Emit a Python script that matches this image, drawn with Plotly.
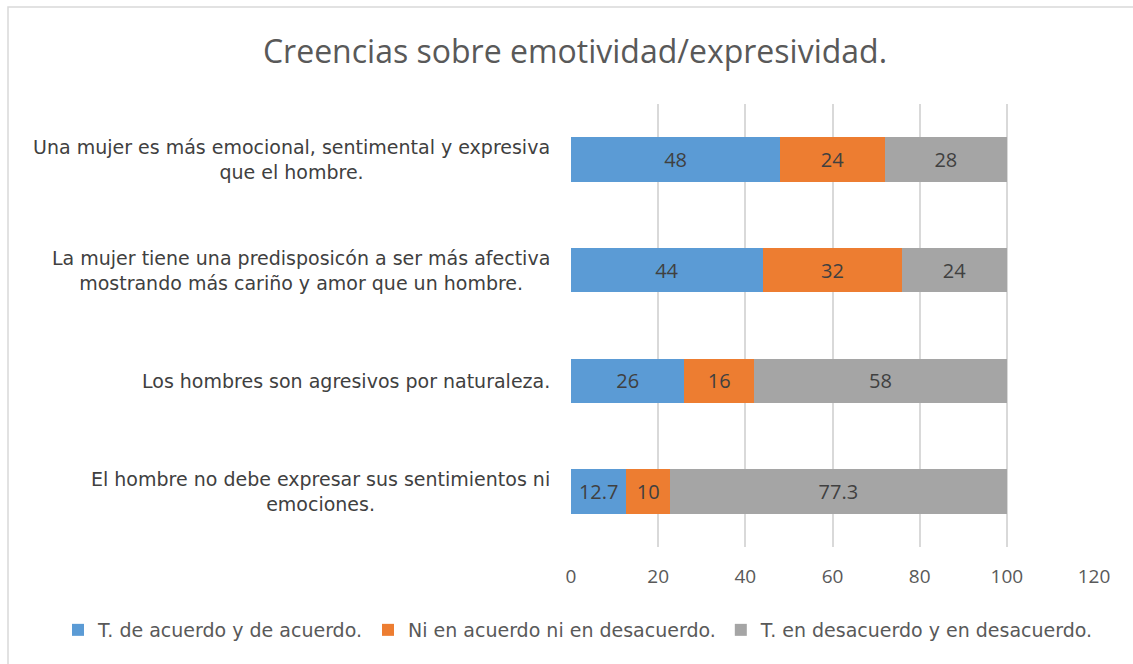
import plotly.graph_objects as go

categories = [
    "Una mujer es más emocional, sentimental y expresiva<br>que el hombre.",
    "La mujer tiene una predisposicón a ser más afectiva<br>mostrando más cariño y amor que un hombre.",
    "Los hombres son agresivos por naturaleza.",
    "El hombre no debe expresar sus sentimientos ni<br>emociones.",
]
series_names = [
    "T. de acuerdo y de acuerdo.",
    "Ni en acuerdo ni en desacuerdo.",
    "T. en desacuerdo y en desacuerdo.",
]
acuerdo = [48, 44, 26, 12.7]
neutral = [24, 32, 16, 10]
desacuerdo = [28, 24, 58, 77.3]
x_ticks = [0, 20, 40, 60, 80, 100, 120]

colors = ["#5B9BD5", "#ED7D31", "#A5A5A5"]
FONT = "Open Sans"
LFONT = "DejaVu Sans"
W, H = 1133, 664
L, R, T, B = 571, 39, 104, 117
pw = W - L - R
ph = H - T - B


def px_x(px):
    return (px - L) / pw


def px_y(py):
    return (H - B - py) / ph


fig = go.Figure()
for name, vals, c in zip(series_names, [acuerdo, neutral, desacuerdo], colors):
    fig.add_trace(go.Bar(
        y=categories, x=vals, name=name, orientation="h",
        marker=dict(color=c, line=dict(width=0)),
        text=[str(v) for v in vals], textposition="inside",
        insidetextanchor="middle", textangle=0,
        textfont=dict(family=FONT, size=20, color="#404040"),
    ))

for cat in categories:
    fig.add_annotation(
        x=px_x(552), xref="paper", y=cat, yref="y",
        text=cat, showarrow=False, xanchor="right", align="center",
        font=dict(family=LFONT, size=19, color="#404040"),
    )

# outer chart border
fig.add_shape(type="rect", xref="paper", yref="paper",
              x0=px_x(8), x1=px_x(1145), y0=px_y(700), y1=px_y(7),
              line=dict(color="#D9D9D9", width=1.5), layer="below")

fig.update_layout(
    width=W, height=H,
    margin=dict(l=L, r=R, t=T, b=B),
    barmode="stack", bargap=0.6,
    paper_bgcolor="white", plot_bgcolor="white",
    title=dict(text="Creencias sobre emotividad/expresividad.",
               x=px_x(575), xref="paper", xanchor="center",
               y=1 - 52 / H, yref="container", yanchor="middle",
               font=dict(family=FONT, size=32, color="#595959")),
    xaxis=dict(range=[0, 120], tickvals=x_ticks, showgrid=True,
               gridcolor="#D9D9D9", gridwidth=1.5, zeroline=False,
               showline=False, ticks="",
               tickfont=dict(family=FONT, size=19, color="#595959"),
               ticklabelstandoff=16),
    yaxis=dict(autorange="reversed", showticklabels=False, showgrid=False,
               showline=False, ticks="", zeroline=False),
    legend=dict(orientation="h", x=px_x(58), xanchor="left",
                y=px_y(630), yanchor="middle",
                font=dict(family=LFONT, size=19, color="#595959"),
                itemwidth=30, traceorder="normal"),
    showlegend=True,
)

fig.write_html("out.html", config={"displayModeBar": False},
               post_script="document.body.style.margin='0';")
